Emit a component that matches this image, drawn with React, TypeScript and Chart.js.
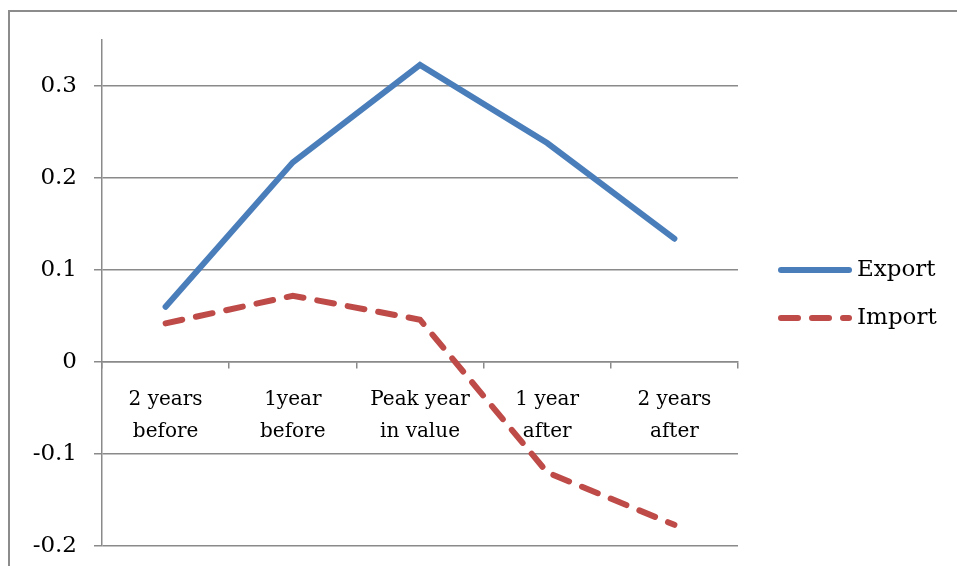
import React, { useEffect, useRef } from "react";
import { Chart, registerables } from "chart.js";

Chart.register(...registerables);

// Category labels (two lines each)
const categories: string[][] = [
  ["2 years", "before"],
  ["1year", "before"],
  ["Peak year", "in value"],
  ["1 year", "after"],
  ["2 years", "after"],
];

// Series values
const exportValues: number[] = [0.06, 0.217, 0.323, 0.238, 0.134];
const importValues: number[] = [0.042, 0.072, 0.046, -0.12, -0.177];

const seriesNames: string[] = ["Export", "Import"];

const GRID = "#8a8a8a";
const FONT = "'DejaVu Serif', serif";

// Outer frame: left and top edges
const framePlugin = {
  id: "frame",
  beforeDraw(chart: any) {
    const ctx = chart.ctx;
    ctx.save();
    ctx.strokeStyle = "#8c8c8c";
    ctx.lineWidth = 2;
    ctx.beginPath();
    ctx.moveTo(9, chart.height);
    ctx.lineTo(9, 11);
    ctx.lineTo(chart.width, 11);
    ctx.stroke();
    ctx.restore();
  },
};

// Legend on the right, drawn with each dataset's own stroke style
const sideLegendPlugin = {
  id: "sideLegend",
  afterDatasetsDraw(chart: any) {
    const ctx = chart.ctx;
    const x0 = 781;
    const x1 = 849;
    const rows = [270, 318];
    ctx.save();
    chart.data.datasets.forEach((ds: any, i: number) => {
      const y = rows[i];
      ctx.strokeStyle = ds.borderColor;
      ctx.lineWidth = ds.borderWidth;
      ctx.lineCap = "round";
      ctx.setLineDash(ds.borderDash || []);
      ctx.beginPath();
      ctx.moveTo(x0, y);
      ctx.lineTo(x1, y);
      ctx.stroke();
      ctx.setLineDash([]);
      ctx.fillStyle = "#000";
      ctx.font = `23px ${FONT}`;
      ctx.textAlign = "left";
      ctx.textBaseline = "middle";
      ctx.fillText(ds.label, 857, y);
    });
    ctx.restore();
  },
};

export default function App() {
  const canvasRef = useRef<HTMLCanvasElement | null>(null);

  useEffect(() => {
    document.body.style.margin = "0";
    const canvas = canvasRef.current;
    if (!canvas) return;
    const chart = new Chart(canvas, {
      type: "line",
      data: {
        labels: categories,
        datasets: [
          {
            label: seriesNames[0],
            data: exportValues,
            borderColor: "#4A7EBB",
            backgroundColor: "#4A7EBB",
            borderWidth: 6,
            pointRadius: 0,
            tension: 0,
            borderCapStyle: "round",
            borderJoinStyle: "miter",
            clip: false as any,
          },
          {
            label: seriesNames[1],
            data: importValues,
            borderColor: "#BE4B48",
            backgroundColor: "#BE4B48",
            borderWidth: 6,
            borderDash: [17, 14],
            borderCapStyle: "round",
            pointRadius: 0,
            tension: 0,
            clip: false as any,
          },
        ],
      },
      options: {
        responsive: false,
        animation: false,
        layout: { padding: { left: 0, right: 219, top: 40, bottom: 20 } },
        plugins: {
          legend: { display: false },
          tooltip: { enabled: false },
          title: { display: false },
        },
        scales: {
          x: {
            type: "category",
            position: { y: 0 } as any,
            offset: true,
            grid: {
              offset: true,
              drawOnChartArea: false,
              drawTicks: true,
              tickLength: 6,
              color: GRID,
              lineWidth: 1.5,
            },
            border: { display: true, color: GRID, width: 1.5 },
            ticks: {
              color: "#000",
              font: { family: FONT, size: 20, lineHeight: 1.6 },
              padding: 16,
              autoSkip: false,
              maxRotation: 0,
              minRotation: 0,
            },
            afterFit(scale: any) {
              scale.height = 0;
            },
          },
          y: {
            type: "linear",
            min: -0.2,
            max: 0.35,
            grid: {
              color: GRID,
              lineWidth: 1.5,
              drawTicks: true,
              tickLength: 8,
            },
            border: { display: true, color: GRID, width: 1.5 },
            ticks: {
              stepSize: 0.1,
              color: "#000",
              font: { family: FONT, size: 23 },
              padding: 17,
              callback: (v: any) => {
                const n = Math.round(Number(v) * 10) / 10;
                return n === 0 ? "0" : String(n);
              },
            },
            afterBuildTicks(scale: any) {
              scale.ticks = scale.ticks.filter(
                (t: any) => Math.abs(t.value * 10 - Math.round(t.value * 10)) < 1e-6
              );
            },
            afterFit(scale: any) {
              scale.width = 102;
              scale.paddingTop = 0;
              scale.paddingBottom = 0;
            },
          },
        },
      },
      plugins: [framePlugin, sideLegendPlugin],
    });
    return () => chart.destroy();
  }, []);

  return (
    <div style={{ width: 957, height: 566, position: "relative", background: "#fff" }}>
      <canvas ref={canvasRef} width={957} height={566} style={{ display: "block" }} />
    </div>
  );
}
